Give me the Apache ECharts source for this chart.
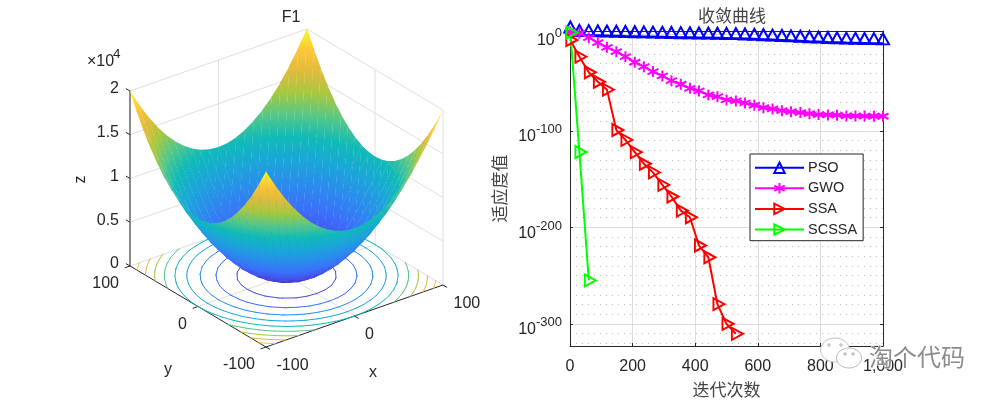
<!DOCTYPE html>
<html>
<head>
<meta charset="utf-8">
<title>F1 收敛曲线</title>
<script src="https://cdn.jsdelivr.net/npm/echarts@6/dist/echarts.min.js"></script>
<style>
  html, body { margin: 0; background: #fff; }
  #chart { width: 1000px; height: 400px; }
</style>
</head>
<body>
<div id="chart"></div>
<script>
// surface samples of F1, rows run along y, columns along x
const gridX = [-100,-90,-80,-70,-60,-50,-40,-30,-20,-10,0,10,20,30,40,50,60,70,80,90,100]
const gridY = [-100,-90,-80,-70,-60,-50,-40,-30,-20,-10,0,10,20,30,40,50,60,70,80,90,100]
const gridZ = [
  [20000,18100,16400,14900,13600,12500,11600,10900,10400,10100,10000,10100,10400,10900,11600,12500,13600,14900,16400,18100,20000],
  [18100,16200,14500,13000,11700,10600,9700,9000,8500,8200,8100,8200,8500,9000,9700,10600,11700,13000,14500,16200,18100],
  [16400,14500,12800,11300,10000,8900,8000,7300,6800,6500,6400,6500,6800,7300,8000,8900,10000,11300,12800,14500,16400],
  [14900,13000,11300,9800,8500,7400,6500,5800,5300,5000,4900,5000,5300,5800,6500,7400,8500,9800,11300,13000,14900],
  [13600,11700,10000,8500,7200,6100,5200,4500,4000,3700,3600,3700,4000,4500,5200,6100,7200,8500,10000,11700,13600],
  [12500,10600,8900,7400,6100,5000,4100,3400,2900,2600,2500,2600,2900,3400,4100,5000,6100,7400,8900,10600,12500],
  [11600,9700,8000,6500,5200,4100,3200,2500,2000,1700,1600,1700,2000,2500,3200,4100,5200,6500,8000,9700,11600],
  [10900,9000,7300,5800,4500,3400,2500,1800,1300,1000,900,1000,1300,1800,2500,3400,4500,5800,7300,9000,10900],
  [10400,8500,6800,5300,4000,2900,2000,1300,800,500,400,500,800,1300,2000,2900,4000,5300,6800,8500,10400],
  [10100,8200,6500,5000,3700,2600,1700,1000,500,200,100,200,500,1000,1700,2600,3700,5000,6500,8200,10100],
  [10000,8100,6400,4900,3600,2500,1600,900,400,100,0,100,400,900,1600,2500,3600,4900,6400,8100,10000],
  [10100,8200,6500,5000,3700,2600,1700,1000,500,200,100,200,500,1000,1700,2600,3700,5000,6500,8200,10100],
  [10400,8500,6800,5300,4000,2900,2000,1300,800,500,400,500,800,1300,2000,2900,4000,5300,6800,8500,10400],
  [10900,9000,7300,5800,4500,3400,2500,1800,1300,1000,900,1000,1300,1800,2500,3400,4500,5800,7300,9000,10900],
  [11600,9700,8000,6500,5200,4100,3200,2500,2000,1700,1600,1700,2000,2500,3200,4100,5200,6500,8000,9700,11600],
  [12500,10600,8900,7400,6100,5000,4100,3400,2900,2600,2500,2600,2900,3400,4100,5000,6100,7400,8900,10600,12500],
  [13600,11700,10000,8500,7200,6100,5200,4500,4000,3700,3600,3700,4000,4500,5200,6100,7200,8500,10000,11700,13600],
  [14900,13000,11300,9800,8500,7400,6500,5800,5300,5000,4900,5000,5300,5800,6500,7400,8500,9800,11300,13000,14900],
  [16400,14500,12800,11300,10000,8900,8000,7300,6800,6500,6400,6500,6800,7300,8000,8900,10000,11300,12800,14500,16400],
  [18100,16200,14500,13000,11700,10600,9700,9000,8500,8200,8100,8200,8500,9000,9700,10600,11700,13000,14500,16200,18100],
  [20000,18100,16400,14900,13600,12500,11600,10900,10400,10100,10000,10100,10400,10900,11600,12500,13600,14900,16400,18100,20000]
]
const contourLevels = [2000, 4000, 6000, 8000, 10000, 12000, 14000, 16000, 18000]
const floorTicks = [-100, 0, 100]
const zTicks = [0, 5000, 10000, 15000, 20000]
const zTickLabels = ["0", "0.5", "1", "1.5", "2"]

// convergence curves, values are log10 of the fitness
const psoIter = [1,30,60,89,118,148,177,207,236,265,295,324,354,383,412,442,471,500,530,559,589,618,647,677,706,736,765,794,824,853,883,912,941,971,1000]
const psoLog = [3.1,-0.5,-0.7,-0.9,-1.1,-1.3,-1.6,-1.8,-2,-2.2,-2.4,-2.6,-2.8,-2.9,-3.1,-3.2,-3.4,-3.6,-3.8,-4.1,-4.5,-4.9,-5.3,-5.7,-6.1,-6.5,-7,-7.4,-7.8,-8.1,-8.4,-8.6,-8.8,-9,-9.2]
const gwoLog = [2.9,1.2,-3.3,-8.5,-13.3,-17.8,-23,-28.8,-33.4,-38.5,-43,-47.9,-51.6,-55.8,-58.5,-62.7,-64.5,-67.9,-68.9,-71,-73.4,-75.9,-77.2,-79,-80,-81,-82.1,-83.1,-83.4,-83.7,-84.5,-84.5,-84.6,-84.8,-84.8]
const ssaIter = [1,30,60,89,118,148,177,207,236,265,295,324,354,383,412,442,471,500,530]
const ssaLog = [-5.7,-23,-39.2,-49,-57.2,-99,-109.3,-122,-134,-143,-156,-168,-182.6,-189.5,-218.8,-231,-279.6,-300,-310.4]
const scssaIter = [1,30,60]
const scssaLog = [2,-121.8,-255]
const logTicks = [0, -100, -200, -300]
const logMinorTicks = [-10,-20,-30,-40,-50,-60,-70,-80,-90,-110,-120,-130,-140,-150,-160,-170,-180,-190,-210,-220,-230,-240,-250,-260,-270,-280,-290,-310,-320]

const LATIN = '"Liberation Sans", Arial, sans-serif'
const CJK = '"Noto Sans CJK SC", sans-serif'
const INK = "#262626"
const WALL = "#e0e0e0"
const parula = ["#3e26a8","#4649e8","#3b6ffb","#2a8cec","#1aa6d8","#0fbab8","#55c788","#a5c840","#e0bb3a","#fcc53a","#f9fb15"]
const Z_TOP = 20000
const STEEP = 300 // z per pixel, steeper triangles are nearly edge-on
const ASTERISK = "path://M0 -10L0 10M-8.66 -5L8.66 5M-8.66 5L8.66 -5"

// fixed orthographic view of the 3D box, result is in the hidden left grid's units
function project(x, y, z) {
  return [
    206 + (x + 100) * 0.885 - (y + 100) * 0.68,
    327 - (x + 100) * 0.31 - (y + 100) * 0.405 - z * 0.00875
  ]
}

function hexToRgb(hex) {
  return [1, 3, 5].map((i) => parseInt(hex.slice(i, i + 2), 16))
}

function zColor(z) {
  const t = Math.max(0, Math.min(1, z / Z_TOP)) * (parula.length - 1)
  const i = Math.min(parula.length - 2, Math.floor(t))
  const a = hexToRgb(parula[i])
  const b = hexToRgb(parula[i + 1])
  const c = a.map((v, k) => Math.round(v + (b[k] - v) * (t - i)))
  return `rgb(${c[0]},${c[1]},${c[2]})`
}

// colour stops for a z span, with the colormap's own knots so neighbours agree along shared edges
function zStops(lo, hi) {
  const knot = Z_TOP / (parula.length - 1)
  const stops = [{ offset: 0, color: zColor(lo) }]
  for (let k = Math.ceil(lo / knot); k * knot < hi; k++) {
    if (k * knot > lo) stops.push({ offset: (k * knot - lo) / (hi - lo), color: zColor(k * knot) })
  }
  stops.push({ offset: 1, color: zColor(hi) })
  return stops
}

// far cells first so nearer ones paint over them
const surfaceTris = []
for (let r = gridY.length - 2; r >= 0; r--) {
  for (let c = gridX.length - 2; c >= 0; c--) {
    surfaceTris.push([r, c, r, c + 1, r + 1, c + 1])
    surfaceTris.push([r, c, r + 1, c + 1, r + 1, c])
  }
}

function renderSurface(params, api) {
  const t = surfaceTris[params.dataIndex]
  const nodes = [0, 2, 4].map((k) => {
    const z = gridZ[t[k]][t[k + 1]]
    return { p: api.coord(project(gridX[t[k + 1]], gridY[t[k]], z)), z }
  })
  const [a, b, c] = nodes
  const ux = b.p[0] - a.p[0], uy = b.p[1] - a.p[1]
  const vx = c.p[0] - a.p[0], vy = c.p[1] - a.p[1]
  const det = ux * vy - uy * vx
  const zs = nodes.map((n) => n.z)
  const zMin = Math.min(...zs), zMax = Math.max(...zs)
  const low = nodes[zs.indexOf(zMin)].p
  const high = nodes[zs.indexOf(zMax)].p
  let gx = 0, gy = 0
  if (Math.abs(det) > 0.01) {
    // gradient of z across the flat triangle on screen
    gx = ((b.z - a.z) * vy - (c.z - a.z) * uy) / det
    gy = ((c.z - a.z) * ux - (b.z - a.z) * vx) / det
  }
  if (Math.hypot(gx, gy) > STEEP || (gx === 0 && gy === 0)) {
    // nearly edge-on: follow the low to high edge instead of an extreme plane
    const ex = high[0] - low[0], ey = high[1] - low[1]
    const e2 = ex * ex + ey * ey || 1
    gx = (zMax - zMin) * ex / e2
    gy = (zMax - zMin) * ey / e2
  }
  let fill = zColor((zMin + zMax) / 2)
  const len2 = gx * gx + gy * gy
  if (len2 > 0) {
    const pad = Math.sqrt(len2)
    const lo = zMin - pad, hi = zMax + pad
    fill = new echarts.graphic.LinearGradient(
      low[0] + gx * (lo - zMin) / len2, low[1] + gy * (lo - zMin) / len2,
      low[0] + gx * (hi - zMin) / len2, low[1] + gy * (hi - zMin) / len2,
      zStops(lo, hi), true)
  }
  // grow each triangle a hair so antialiased edges leave no seams
  const cx = (a.p[0] + b.p[0] + c.p[0]) / 3
  const cy = (a.p[1] + b.p[1] + c.p[1]) / 3
  const points = nodes.map((n) => {
    const dx = n.p[0] - cx, dy = n.p[1] - cy
    const d = Math.hypot(dx, dy) || 1
    return [n.p[0] + dx / d * 0.5, n.p[1] + dy / d * 0.5]
  })
  return { type: "polygon", shape: { points }, style: { fill } }
}

// marching squares over gridZ
function contourSegments() {
  const segs = []
  contourLevels.forEach((level) => {
    for (let r = 0; r < gridY.length - 1; r++) {
      for (let c = 0; c < gridX.length - 1; c++) {
        const corners = [[r, c], [r, c + 1], [r + 1, c + 1], [r + 1, c]]
        const hits = []
        corners.forEach(([r0, c0], k) => {
          const [r1, c1] = corners[(k + 1) % 4]
          const z0 = gridZ[r0][c0], z1 = gridZ[r1][c1]
          if ((z0 < level) !== (z1 < level)) {
            const f = (level - z0) / (z1 - z0)
            hits.push([gridX[c0] + (gridX[c1] - gridX[c0]) * f, gridY[r0] + (gridY[r1] - gridY[r0]) * f])
          }
        })
        if (hits.length === 2) segs.push([hits[0][0], hits[0][1], hits[1][0], hits[1][1], level])
      }
    }
  })
  return segs
}

const contours = contourSegments()

function renderContour(params, api) {
  const s = contours[params.dataIndex]
  const p0 = api.coord(project(s[0], s[1], 0))
  const p1 = api.coord(project(s[2], s[3], 0))
  return {
    type: "line",
    shape: { x1: p0[0], y1: p0[1], x2: p1[0], y2: p1[1] },
    style: { stroke: zColor(s[4]), lineWidth: 1, lineCap: "round" }
  }
}

// box lines: walls and floor grid in light grey, then the three dark axes with ticks
const boxLines = []
function boxLine(a, b, color) {
  boxLines.push({ a, b, color })
}
zTicks.forEach((z) => {
  boxLine([-100, 100, z], [100, 100, z], WALL)
  boxLine([100, 100, z], [100, -100, z], WALL)
})
floorTicks.forEach((t) => {
  boxLine([t, 100, 0], [t, 100, 20000], WALL)
  boxLine([100, t, 0], [100, t, 20000], WALL)
})
boxLine([0, -100, 0], [0, 100, 0], WALL)
boxLine([-100, 0, 0], [100, 0, 0], WALL)
boxLine([-100, 100, 0], [-100, 100, 20000], INK)
boxLine([-100, 100, 0], [-100, -100, 0], INK)
boxLine([-100, -100, 0], [100, -100, 0], INK)
zTicks.forEach((z) => boxLine([-100, 100, z], [-100, 106, z], INK))
floorTicks.forEach((t) => {
  boxLine([t, -100, 0], [t, -106, 0], INK)
  boxLine([-100, t, 0], [-106, t, 0], INK)
})

function renderBoxLine(params, api) {
  const l = boxLines[params.dataIndex]
  const p0 = api.coord(project(...l.a))
  const p1 = api.coord(project(...l.b))
  return {
    type: "line",
    shape: { x1: p0[0], y1: p0[1], x2: p1[0], y2: p1[1] },
    style: { stroke: l.color, lineWidth: 1 }
  }
}

// labels hang off a projected anchor with a small screen offset
const boxLabels = []
function boxLabel(text, anchor, dx, dy, align, size, extra) {
  boxLabels.push({ text, anchor, dx, dy, align, size, ...extra })
}
floorTicks.forEach((t) => {
  boxLabel(String(t), [t, -100, 0], 10.5, 19, "left", 16)
  boxLabel(String(t), [-100, t, 0], -11, 18, "right", 16)
})
zTicks.forEach((z, i) => boxLabel(zTickLabels[i], [-100, 100, z], -11, -2, "right", 16))
boxLabel("×10", [-100, 100, 20000], -43, -29.5, "left", 16)
boxLabel("4", [-100, 100, 20000], -17, -37, "left", 13.5)
boxLabel("z", [-100, 100, 10000], -49, 1, "center", 16, { rotation: Math.PI / 2 })
boxLabel("y", [-100, 0, 0], -30, 63, "center", 16)
boxLabel("x", [0, -100, 0], 18.5, 57, "center", 16)

function renderBoxLabel(params, api) {
  const l = boxLabels[params.dataIndex]
  const p = api.coord(project(...l.anchor))
  return {
    type: "text",
    x: p[0] + l.dx,
    y: p[1] + l.dy,
    rotation: l.rotation || 0,
    style: {
      text: l.text,
      fill: INK,
      font: `${l.size}px ${LATIN}`,
      align: l.align,
      verticalAlign: "middle"
    }
  }
}

function customLayer(data, renderItem, z) {
  return {
    type: "custom",
    xAxisIndex: 0,
    yAxisIndex: 0,
    coordinateSystem: "cartesian2d",
    data: data.map((_, i) => [i]),
    encode: { x: 0, y: 0 },
    renderItem,
    clip: false,
    silent: true,
    progressive: 0,
    animation: false,
    z
  }
}

function curve(name, color, iters, logs, symbol, size, rotate, offset) {
  return {
    name,
    type: "line",
    xAxisIndex: 1,
    yAxisIndex: 1,
    data: iters.map((it, i) => [it, logs[i]]),
    clip: false,
    symbol,
    symbolSize: size,
    symbolRotate: rotate,
    symbolOffset: offset,
    showAllSymbol: true,
    lineStyle: { color, width: 2 },
    itemStyle: { color: "none", borderColor: color, borderWidth: 2 },
    emphasis: { disabled: true },
    animation: false,
    z: 5
  }
}

const chart = echarts.init(document.getElementById("chart"), null, { renderer: "canvas" })

chart.setOption({
  animation: false,
  backgroundColor: "#fff",
  title: [
    {
      text: "F1", left: 286, top: 5, textAlign: "center",
      textStyle: { fontFamily: LATIN, fontSize: 16, fontWeight: "normal", color: INK }
    },
    {
      text: "收敛曲线", left: 727, top: 2, textAlign: "center",
      textStyle: { fontFamily: CJK, fontSize: 17, fontWeight: "normal", color: "#444" }
    }
  ],
  legend: {
    left: 750,
    top: 154,
    orient: "vertical",
    padding: [6, 6, 3.5, 4],
    itemWidth: 49,
    itemHeight: 13,
    itemGap: 5.2,
    selectedMode: false,
    backgroundColor: "#fff",
    borderColor: INK,
    borderWidth: 1,
    z: 20,
    textStyle: { fontFamily: LATIN, fontSize: 14.5, color: INK, padding: [0, 0, 0, -1] },
    data: ["PSO", "GWO", "SSA", "SCSSA"]
  },
  grid: [
    { left: 60, top: 20, width: 420, height: 360, outerBoundsMode: "none" },
    { left: 570, top: 31, width: 313, height: 315, outerBoundsMode: "none" }
  ],
  xAxis: [
    { gridIndex: 0, type: "value", min: 0, max: 420, show: false },
    {
      gridIndex: 1, type: "value", min: 0, max: 1000, interval: 200, position: "bottom",
      axisLine: { onZero: false, lineStyle: { color: INK } },
      axisTick: { inside: true, length: 3, lineStyle: { color: INK } },
      axisLabel: {
        margin: 13, fontFamily: LATIN, fontSize: 16, color: INK,
        showMinLabel: true, showMaxLabel: true, hideOverlap: false
      },
      splitLine: { show: true, lineStyle: { color: "#dcdcdc", width: 1 } },
      name: "迭代次数", nameLocation: "middle", nameGap: 35,
      nameTextStyle: { fontFamily: CJK, fontSize: 17, color: "#444" }
    },
    {
      gridIndex: 1, type: "value", min: 0, max: 1000, interval: 200, position: "top",
      axisLine: { onZero: false, lineStyle: { color: INK } },
      axisTick: { inside: true, length: 3, lineStyle: { color: INK } },
      axisLabel: { show: false },
      splitLine: { show: false }
    }
  ],
  yAxis: [
    { gridIndex: 0, type: "value", min: 0, max: 360, inverse: true, show: false },
    {
      gridIndex: 1, type: "value", min: -323, max: 3.6, position: "left",
      axisLine: { show: true, onZero: false, lineStyle: { color: INK } },
      axisTick: { show: true, inside: true, length: 3, customValues: logTicks, lineStyle: { color: INK } },
      axisLabel: {
        customValues: logTicks, margin: 8, color: INK, padding: [4, 0, 0, 0],
        formatter: (v) => `{b|10}{s|${v}}`,
        rich: {
          b: { fontFamily: LATIN, fontSize: 16, color: INK, padding: [8, 0, 0, 0] },
          s: { fontFamily: LATIN, fontSize: 13, color: INK, padding: [0, 0, 6, 0] }
        }
      },
      splitLine: { show: true, lineStyle: { color: "#dcdcdc", width: 1 } },
      name: "适应度值", nameLocation: "middle", nameGap: 62, nameRotate: 90,
      nameTextStyle: { fontFamily: CJK, fontSize: 17, color: "#444" }
    },
    {
      gridIndex: 1, type: "value", min: -323, max: 3.6, position: "right",
      axisLine: { show: true, onZero: false, lineStyle: { color: INK } },
      axisTick: { show: true, inside: true, length: 3, customValues: logTicks, lineStyle: { color: INK } },
      axisLabel: { show: false },
      splitLine: { show: false }
    },
    {
      gridIndex: 1, type: "value", min: -323, max: 3.6, position: "left",
      axisLine: { show: false },
      axisTick: { show: false, customValues: logMinorTicks },
      axisLabel: { show: false },
      splitLine: { show: true, lineStyle: { color: "#bdbdbd", width: 1, type: [1, 5] } }
    }
  ],
  series: [
    customLayer(boxLines, renderBoxLine, 2),
    customLayer(contours, renderContour, 3),
    customLayer(surfaceTris, renderSurface, 4),
    customLayer(boxLabels, renderBoxLabel, 4),
    curve("PSO", "#0000ff", psoIter, psoLog, "triangle", [12, 11], 0, [0, -4.5]),
    curve("GWO", "#ff00ff", psoIter, gwoLog, ASTERISK, 11, 0, [0, 0]),
    curve("SSA", "#ff0000", ssaIter, ssaLog, "triangle", [12, 11], -90, [1.5, 0]),
    curve("SCSSA", "#00ff00", scssaIter, scssaLog, "triangle", [12, 11], -90, [1.5, 0])
  ],
  // watermark sitting on top of the plot corner
  graphic: [
    { type: "ellipse", z: 30, shape: { cx: 835, cy: 350, rx: 14.5, ry: 12 }, style: { fill: "#fff", stroke: "#c4c4c4", lineWidth: 1 } },
    { type: "ellipse", z: 30, shape: { cx: 849, cy: 358, rx: 12.5, ry: 10 }, style: { fill: "#fff", stroke: "#bcbcbc", lineWidth: 1 } },
    { type: "circle", z: 31, shape: { cx: 829, cy: 345, r: 1.2 }, style: { fill: "#fff", stroke: "#999", lineWidth: 0.8 } },
    { type: "circle", z: 31, shape: { cx: 841, cy: 345, r: 1.2 }, style: { fill: "#fff", stroke: "#999", lineWidth: 0.8 } },
    { type: "circle", z: 31, shape: { cx: 845, cy: 354, r: 1.2 }, style: { fill: "#fff", stroke: "#999", lineWidth: 0.8 } },
    { type: "circle", z: 31, shape: { cx: 853, cy: 354, r: 1.2 }, style: { fill: "#fff", stroke: "#999", lineWidth: 0.8 } },
    {
      type: "text", z: 32, x: 917, y: 357,
      style: {
        text: "淘个代码", font: `24px ${CJK}`, fill: "#8c8c8c",
        stroke: "#fff", lineWidth: 0.8, align: "center", verticalAlign: "middle"
      }
    }
  ]
})
</script>
</body>
</html>
